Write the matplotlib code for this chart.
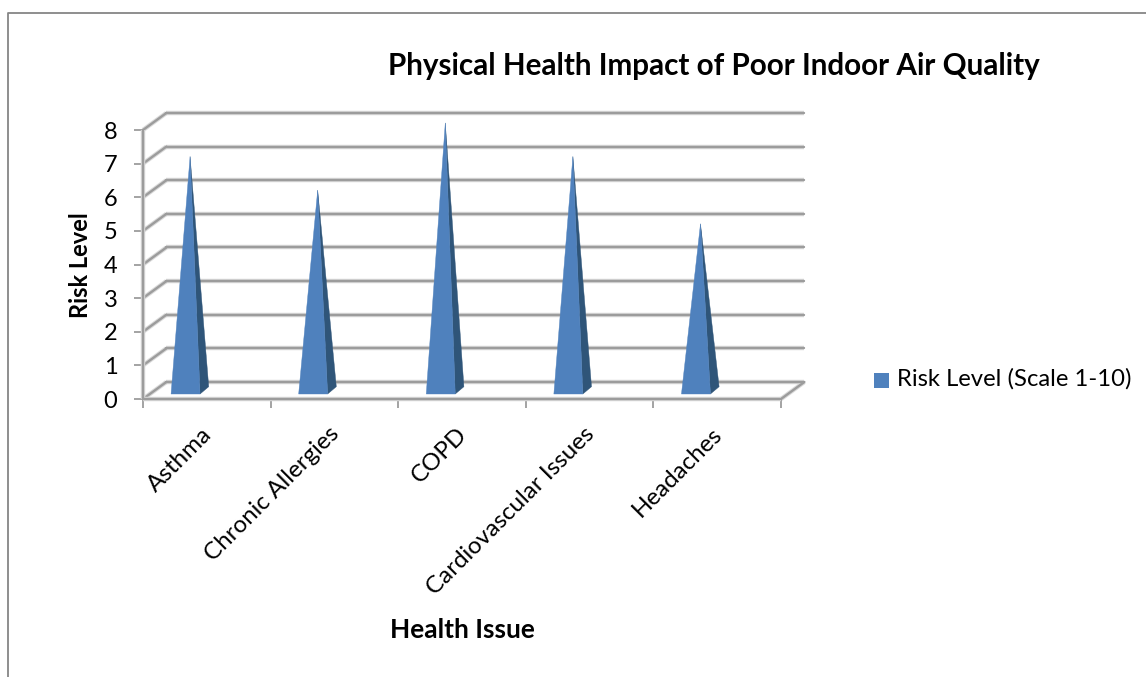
import matplotlib
matplotlib.use("Agg")
import matplotlib.pyplot as plt
from matplotlib.lines import Line2D
from matplotlib.patches import Polygon, Rectangle

plt.rcParams['font.family'] = ['Lato', 'DejaVu Sans']

categories = ["Asthma", "Chronic Allergies", "COPD", "Cardiovascular Issues", "Headaches"]
risk_level = [7, 6, 8, 7, 5]
y_ticks = [0, 1, 2, 3, 4, 5, 6, 7, 8]

W, H = 1146, 677
FRONT_COLOR = "#4F81BD"
SIDE_COLOR = "#2F5579"
GRID_COLOR = "#9C9C9C"
GRID_HALO = "#DADADA"
TEXT_COLOR = "#000000"

# Depth of the pseudo-3D box, in data units
DEPTH_X = 0.183
DEPTH_Y = 0.506

fig = plt.figure(figsize=(W / 100, H / 100), dpi=100)
ax = fig.add_axes([143 / W, 1 - 399 / H, (781 - 143) / W, (399 - 130) / H])
ax.set_xlim(0, len(categories))
ax.set_ylim(0, 8)
ax.patch.set_alpha(0)
for spine in ax.spines.values():
    spine.set_visible(False)


def grid_line(xs, ys, z=1):
    ax.plot(xs, ys, color=GRID_HALO, lw=3.2, clip_on=False, zorder=z, solid_capstyle="butt")
    ax.plot(xs, ys, color=GRID_COLOR, lw=1.7, clip_on=False, zorder=z + 0.1, solid_capstyle="round")


# Back wall and left wall gridlines
n = len(categories)
for v in y_ticks:
    grid_line([DEPTH_X, n + DEPTH_X], [v + DEPTH_Y, v + DEPTH_Y])
    grid_line([0, DEPTH_X], [v, v + DEPTH_Y])

# Floor edges and the front axes
grid_line([n, n + DEPTH_X], [0, DEPTH_Y], z=1)
grid_line([0, n], [0, 0], z=2)
grid_line([0, 0], [0, 8], z=2)

# Pyramids: a front face and a darker right side face
for i, value in enumerate(risk_level):
    left, right, side, apex = i + 0.22, i + 0.447, i + 0.515, i + 0.369
    base_front, base_back, top = 0.149, 0.366, value + 0.21
    ax.add_patch(Polygon([(right, base_front), (side, base_back), (apex, top)],
                         closed=True, fc=SIDE_COLOR, ec=SIDE_COLOR, lw=0.3, zorder=3, clip_on=False))
    ax.add_patch(Polygon([(left, base_front), (right, base_front), (apex, top)],
                         closed=True, fc=FRONT_COLOR, ec=FRONT_COLOR, lw=0.3, zorder=4, clip_on=False))

ax.set_xticks(range(n + 1))
ax.set_xticklabels([])
ax.set_yticks(y_ticks)
ax.tick_params(axis="both", length=6.5, width=1.3, color=GRID_COLOR, labelcolor=TEXT_COLOR)
ax.tick_params(axis="y", labelsize=17, pad=12)

# Slanted category labels, ending under the middle of each slot
for i, name in enumerate(categories):
    ax.annotate(name, xy=(i + 0.5, 0), xytext=(-4, -17.5), textcoords="offset points",
                rotation=45, ha="right", va="top", rotation_mode="anchor",
                fontsize=17.4, color=TEXT_COLOR, annotation_clip=False)

fig.text(714 / W, 1 - 66 / H, "Physical Health Impact of Poor Indoor Air Quality",
         fontsize=21.3, fontweight="bold", ha="center", va="center", color=TEXT_COLOR)
fig.text(462 / W, 1 - 630 / H, "Health Issue", fontsize=19, fontweight="bold",
         ha="center", va="center", color=TEXT_COLOR)
fig.text(80 / W, 1 - 265 / H, "Risk Level", fontsize=17, fontweight="bold", rotation=90,
         ha="center", va="center", color=TEXT_COLOR)

# Legend
fig.add_artist(Rectangle((874 / W, 1 - 388 / H), 15 / W, 15 / H, transform=fig.transFigure,
                         fc=FRONT_COLOR, ec="none"))
fig.text(897 / W, 1 - 379 / H, "Risk Level (Scale 1-10)", fontsize=17.2,
         ha="left", va="center", color=TEXT_COLOR)

# Chart area border along the top and left
fig.add_artist(Line2D([8 / W, 8 / W, 1], [0, 1 - 13 / H, 1 - 13 / H],
                      transform=fig.transFigure, color="#868686", lw=1.3))

fig.savefig("out.png", dpi=100, facecolor="white")
